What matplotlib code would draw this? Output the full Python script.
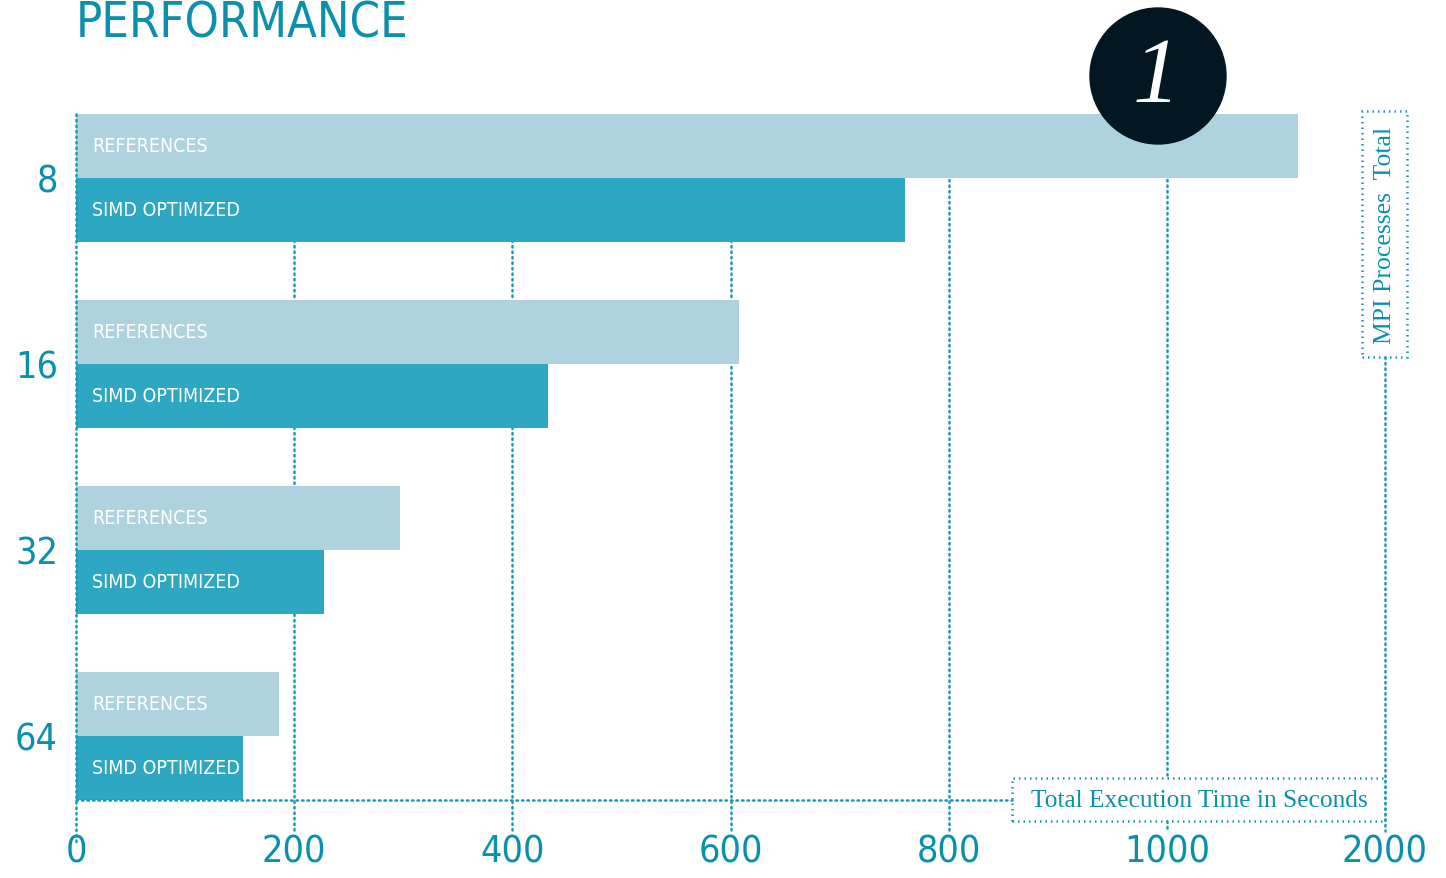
import numpy as np
import matplotlib
matplotlib.use("Agg")
import matplotlib.pyplot as plt
import matplotlib.transforms as mtransforms
from matplotlib.patches import Circle, Rectangle
from matplotlib.lines import Line2D

# data
procs = ["8", "16", "32", "64"]
references = [1600, 608, 297, 186]
simd_optimized = [760, 433, 227, 153]
tick_values = [0, 200, 400, 600, 800, 1000, 2000]

NARROW = ["DejaVu Sans"]
SERIF = ["Liberation Serif", "DejaVu Serif"]
TEAL = "#0a90ad"
DOT = "#1a98b3"
LIGHT = "#aed3de"
DARK = "#2ea7c2"

W, H = 1446, 879


def pos(v):
    # broken scale: linear to 1000, then 1000..2000 squeezed into one step
    v = np.asarray(v, dtype=float)
    return np.where(v <= 1000, v, 1000 + (v - 1000) / 5.0)


def fy(py):
    return 1 - py / H


def fx(px):
    return px / W


fig = plt.figure(figsize=(W / 100, H / 100), dpi=100)
ax = fig.add_axes([fx(76), fy(801), (1385 - 76) / W, (801 - 100) / H])

y = np.arange(len(procs))
h = 64 / 186
ax.barh(y - h / 2, pos(references), height=h, color=LIGHT, zorder=1)
ax.barh(y + h / 2, pos(simd_optimized), height=h, color=DARK, zorder=1)

ax.set_xlim(0, 1200)
ax.set_ylim(3 + h, -79 / 186)

for i in y:
    ax.text(14.5, i - h / 2, "REFERENCES", color="white", fontsize=14,
            family=NARROW, stretch="condensed", va="center", ha="left", zorder=3)
    ax.text(14.5, i + h / 2, "SIMD OPTIMIZED", color="white", fontsize=14,
            family=NARROW, stretch="condensed", va="center", ha="left", zorder=3)

tpos = pos(tick_values)
ax.set_xticks(tpos)
ax.set_xticklabels([str(t) for t in tick_values], family=NARROW,
                   stretch="condensed", fontsize=27, color=TEAL)
ax.set_yticks(y)
ax.set_yticklabels(procs, family=NARROW, stretch="condensed", fontsize=27,
                   color=TEAL)
ax.tick_params(axis="x", length=0, pad=24)
ax.tick_params(axis="y", length=0, pad=13)
for s in ax.spines.values():
    s.set_visible(False)

# dotted guide lines
dot = dict(color=DOT, lw=1.8, ls=(0, (0.6, 1.6)), dash_capstyle="round",
           clip_on=False, zorder=0.5)
bt = mtransforms.blended_transform_factory(ax.transData, fig.transFigure)
spans = {0: [(115, 845)], 200: [(120, 832)], 400: [(120, 832)],
         600: [(120, 832)], 800: [(120, 832)],
         1000: [(120, 779), (822, 832)], 2000: [(358, 832)]}
for t, tp in zip(tick_values, tpos):
    for a, b in spans[t]:
        ln, = ax.plot([tp, tp], [fy(a), fy(b)], transform=bt, **dot)
        if t == 0:
            ln.set_zorder(2)

fdot = dict(color=DOT, lw=1.8, ls=(0, (0.6, 1.6)), dash_capstyle="round",
            transform=fig.transFigure)
fig.add_artist(Line2D([fx(76), fx(1012)], [fy(801), fy(801)], **fdot))
fig.add_artist(Rectangle((fx(1012), fy(822)), fx(1385) - fx(1012),
                         fy(779) - fy(822), fill=False, edgecolor=DOT,
                         lw=1.8, ls=(0, (0.6, 1.6)), transform=fig.transFigure))
fig.text(fx(1199), fy(801), "Total Execution Time in Seconds", family=SERIF,
         fontsize=18.3, color=TEAL, ha="center", va="center")

fig.add_artist(Rectangle((fx(1362), fy(358)), fx(1407) - fx(1362),
                         fy(112) - fy(358), fill=False, edgecolor=DOT,
                         lw=1.8, ls=(0, (0.6, 1.6)), transform=fig.transFigure))
fig.text(fx(1385), fy(235), "MPI Processes  Total", family=SERIF,
         fontsize=18.5, color=TEAL, ha="center", va="center", rotation=90)

# title
fig.text(fx(76), fy(0), "PERFORMANCE", family=NARROW, stretch="condensed",
         fontsize=35, color=TEAL, ha="left", va="top")

# badge
fig.add_artist(Circle((11.58, (H - 77) / 100), 0.68, color="#021722",
                      transform=fig.dpi_scale_trans, zorder=5))
fig.text(fx(1156), fy(80), "1", family=SERIF, style="italic", fontsize=68,
         color="white", ha="center", va="center", zorder=6)

fig.savefig("out.png", dpi=100)
